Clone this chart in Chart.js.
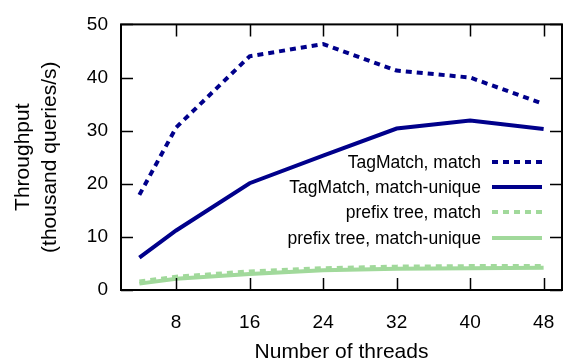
<!DOCTYPE html>
<html>
<head>
<meta charset="utf-8">
<script src="https://cdn.jsdelivr.net/npm/chart.js@4/dist/chart.umd.min.js"></script>
<style>
  html, body { margin: 0; padding: 0; background: #fff; }
  #wrap { width: 571px; height: 362px; }
</style>
</head>
<body>
<div id="wrap"><canvas id="chart" width="571" height="362"></canvas></div>
<script>
// values
const threads = [4, 8, 16, 24, 32, 40, 48];
const tagMatchMatch  = [17.9, 30.6, 44.0, 46.3, 41.3, 40.0, 35.0];
const tagMatchUnique = [6.1, 11.2, 20.1, 25.3, 30.4, 31.9, 30.3];
const prefixMatch    = [1.6, 2.5, 3.5, 4.1, 4.4, 4.5, 4.5];
const prefixUnique   = [1.2, 2.1, 3.0, 3.7, 4.0, 4.1, 4.2];
const xTicks = [8, 16, 24, 32, 40, 48];
const yTicks = [0, 10, 20, 30, 40, 50];
const seriesNames = ['TagMatch, match', 'TagMatch, match-unique', 'prefix tree, match', 'prefix tree, match-unique'];

const FONT = "'Liberation Sans', Arial, Helvetica, sans-serif";
const BLUE = '#00008b';
const GREEN = '#a1d99b';
const DASH = [6, 5];

function pts(vals) {
  return threads.map((t, i) => ({ x: t, y: vals[i] }));
}

const series = [
  { data: tagMatchMatch, color: BLUE, dash: DASH },
  { data: tagMatchUnique, color: BLUE, dash: [] },
  { data: prefixMatch, color: GREEN, dash: DASH },
  { data: prefixUnique, color: GREEN, dash: [] }
];

// frame, inward tick marks and the legend, gnuplot style
const framePlugin = {
  id: 'frame',
  afterDatasetsDraw(chart) {
    const ctx = chart.ctx;
    const a = chart.chartArea;
    const xs = chart.scales.x, ys = chart.scales.y;
    ctx.save();
    ctx.strokeStyle = '#000';
    ctx.lineWidth = 1.5;
    ctx.beginPath();
    xTicks.forEach(v => {
      const px = Math.round(xs.getPixelForValue(v)) + 0.5;
      ctx.moveTo(px, a.bottom); ctx.lineTo(px, a.bottom - 12);
      ctx.moveTo(px, a.top); ctx.lineTo(px, a.top + 12);
    });
    yTicks.forEach(v => {
      const py = Math.round(ys.getPixelForValue(v)) + 0.5;
      ctx.moveTo(a.left, py); ctx.lineTo(a.left + 12, py);
      ctx.moveTo(a.right, py); ctx.lineTo(a.right - 12, py);
    });
    ctx.stroke();
    ctx.lineWidth = 2;
    ctx.strokeRect(a.left, a.top, a.right - a.left, a.bottom - a.top);

    // legend
    const rows = [162, 187, 212, 238];
    ctx.font = '17.5px ' + FONT;
    ctx.textAlign = 'right';
    ctx.textBaseline = 'middle';
    series.forEach((s, i) => {
      ctx.fillStyle = '#000';
      ctx.fillText(seriesNames[i], 481, rows[i] + 1);
      ctx.strokeStyle = s.color;
      ctx.lineWidth = 4;
      ctx.setLineDash(s.dash);
      ctx.beginPath();
      ctx.moveTo(492, rows[i]);
      ctx.lineTo(542, rows[i]);
      ctx.stroke();
    });
    ctx.setLineDash([]);
    ctx.restore();
  }
};

new Chart(document.getElementById('chart'), {
  type: 'line',
  data: {
    datasets: series.map((s, i) => ({
      label: seriesNames[i],
      data: pts(s.data),
      borderColor: s.color,
      backgroundColor: s.color,
      borderDash: s.dash,
      borderWidth: 4,
      pointRadius: 0,
      tension: 0,
      fill: false
    }))
  },
  options: {
    responsive: false,
    animation: false,
    layout: { padding: { top: 12, right: 9, left: 0, bottom: 0 } },
    plugins: {
      legend: { display: false },
      tooltip: { enabled: false }
    },
    scales: {
      x: {
        type: 'linear',
        min: 2,
        max: 50,
        afterBuildTicks: s => { s.ticks = xTicks.map(v => ({ value: v })); },
        afterFit: s => { s.height = 72; },
        grid: { display: false },
        border: { display: false },
        ticks: { color: '#000', font: { family: FONT, size: 19 }, padding: 13, maxRotation: 0 },
        title: {
          display: true,
          text: 'Number of threads',
          color: '#000',
          font: { family: FONT, size: 21, lineHeight: 0.9 },
          padding: { top: 0, bottom: 0 }
        }
      },
      y: {
        min: 0,
        max: 50,
        afterBuildTicks: s => { s.ticks = yTicks.map(v => ({ value: v })); },
        afterFit: s => { s.width = 121; },
        grid: { display: false, drawTicks: false },
        border: { display: false },
        ticks: { color: '#000', font: { family: FONT, size: 19 }, padding: 13 },
        title: {
          display: true,
          text: ['Throughput', '(thousand queries/s)'],
          color: '#000',
          font: { family: FONT, size: 21, lineHeight: 1.29 },
          padding: { top: 10, bottom: 0 }
        }
      }
    }
  },
  plugins: [framePlugin]
});
</script>
</body>
</html>
